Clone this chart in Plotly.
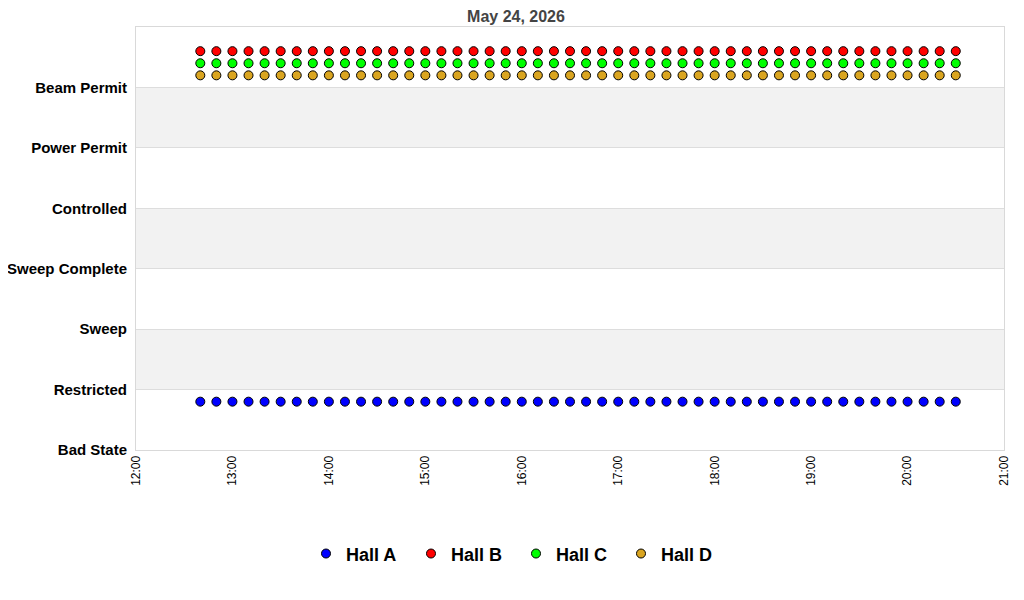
import plotly.graph_objects as go

# ----- Data -----
states = ["Bad State", "Restricted", "Sweep", "Sweep Complete",
          "Controlled", "Power Permit", "Beam Permit"]

times = [
    "2026-05-24 12:40", "2026-05-24 12:50",
    "2026-05-24 13:00", "2026-05-24 13:10", "2026-05-24 13:20", "2026-05-24 13:30", "2026-05-24 13:40", "2026-05-24 13:50",
    "2026-05-24 14:00", "2026-05-24 14:10", "2026-05-24 14:20", "2026-05-24 14:30", "2026-05-24 14:40", "2026-05-24 14:50",
    "2026-05-24 15:00", "2026-05-24 15:10", "2026-05-24 15:20", "2026-05-24 15:30", "2026-05-24 15:40", "2026-05-24 15:50",
    "2026-05-24 16:00", "2026-05-24 16:10", "2026-05-24 16:20", "2026-05-24 16:30", "2026-05-24 16:40", "2026-05-24 16:50",
    "2026-05-24 17:00", "2026-05-24 17:10", "2026-05-24 17:20", "2026-05-24 17:30", "2026-05-24 17:40", "2026-05-24 17:50",
    "2026-05-24 18:00", "2026-05-24 18:10", "2026-05-24 18:20", "2026-05-24 18:30", "2026-05-24 18:40", "2026-05-24 18:50",
    "2026-05-24 19:00", "2026-05-24 19:10", "2026-05-24 19:20", "2026-05-24 19:30", "2026-05-24 19:40", "2026-05-24 19:50",
    "2026-05-24 20:00", "2026-05-24 20:10", "2026-05-24 20:20", "2026-05-24 20:30",
]

# state index per sample (0 = Bad State ... 6 = Beam Permit)
hall_a = [1, 1, 1, 1, 1, 1, 1, 1, 1, 1, 1, 1, 1, 1, 1, 1, 1, 1, 1, 1, 1, 1, 1, 1,
          1, 1, 1, 1, 1, 1, 1, 1, 1, 1, 1, 1, 1, 1, 1, 1, 1, 1, 1, 1, 1, 1, 1, 1]
hall_b = [6, 6, 6, 6, 6, 6, 6, 6, 6, 6, 6, 6, 6, 6, 6, 6, 6, 6, 6, 6, 6, 6, 6, 6,
          6, 6, 6, 6, 6, 6, 6, 6, 6, 6, 6, 6, 6, 6, 6, 6, 6, 6, 6, 6, 6, 6, 6, 6]
hall_c = [6, 6, 6, 6, 6, 6, 6, 6, 6, 6, 6, 6, 6, 6, 6, 6, 6, 6, 6, 6, 6, 6, 6, 6,
          6, 6, 6, 6, 6, 6, 6, 6, 6, 6, 6, 6, 6, 6, 6, 6, 6, 6, 6, 6, 6, 6, 6, 6]
hall_d = [6, 6, 6, 6, 6, 6, 6, 6, 6, 6, 6, 6, 6, 6, 6, 6, 6, 6, 6, 6, 6, 6, 6, 6,
          6, 6, 6, 6, 6, 6, 6, 6, 6, 6, 6, 6, 6, 6, 6, 6, 6, 6, 6, 6, 6, 6, 6, 6]

# ----- Figure -----
fig = go.Figure()

# hall name, values, colour, vertical offset so the halls don't overlap
halls = [("Hall A", hall_a, "#0000ff", -0.2),
         ("Hall B", hall_b, "#ff0000", 0.6),
         ("Hall C", hall_c, "#00ff00", 0.4),
         ("Hall D", hall_d, "#daa520", 0.2)]

for name, vals, color, off in halls:
    fig.add_trace(go.Scatter(
        x=times, y=[v + off for v in vals], mode="markers", name=name,
        marker=dict(symbol="circle", size=9, color=color,
                    line=dict(color="black", width=1))))

# alternating grey bands
for lo in (1, 3, 5):
    fig.add_shape(type="rect", xref="paper", yref="y", x0=0, x1=1, y0=lo, y1=lo + 1,
                  fillcolor="#f2f2f2", line_width=0, layer="below")

# page has an 8px body margin, so the figure is a bit smaller than the window
fig.update_layout(
    width=1016, height=592,
    template="none",
    plot_bgcolor="white", paper_bgcolor="white",
    margin=dict(l=128, r=20, t=19, b=150),
    font=dict(family="Liberation Sans, Arial, sans-serif", color="black"),
    title=dict(text="<b>May 24, 2026</b>", x=0.5, xref="container", xanchor="center",
               y=0.995, yanchor="top", font=dict(size=16, color="#444444")),
    legend=dict(orientation="h", xref="container", x=0.5, xanchor="center",
                yref="container", y=0.078, yanchor="middle",
                font=dict(size=18, weight="bold"), itemwidth=30, entrywidth=60,
                tracegroupgap=0, bgcolor="rgba(0,0,0,0)"),
    showlegend=True,
)

fig.update_xaxes(
    type="date", range=["2026-05-24 12:00", "2026-05-24 21:00"],
    dtick=3600000, tickformat="%H:%M", tickangle=-90,
    tickfont=dict(size=12), showgrid=False, zeroline=False,
    showline=True, linecolor="#d9d9d9", linewidth=1, mirror=True, ticks="",
)
fig.update_yaxes(
    range=[0, 7], tickvals=list(range(len(states))), ticktext=states,
    tickfont=dict(size=15, weight="bold"), showgrid=True, gridcolor="#dddddd",
    gridwidth=1, zeroline=False, showline=True, linecolor="#d9d9d9",
    linewidth=1, mirror=True, ticks="", ticklabelstandoff=5,
)

fig.write_html("out.html")
